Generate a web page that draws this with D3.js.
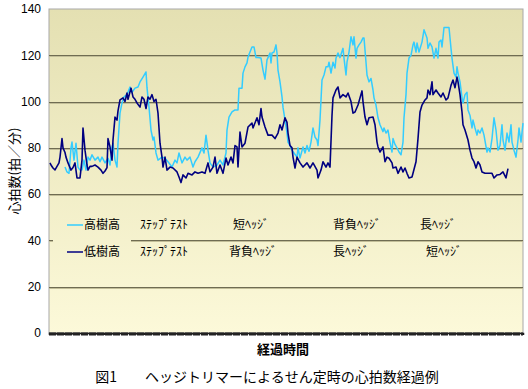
<!DOCTYPE html>
<html><head><meta charset="utf-8">
<script src="https://cdn.jsdelivr.net/npm/d3@7"></script>
<style>
html,body{margin:0;padding:0;background:#fff;}
svg{display:block;}
</style></head>
<body>
<svg id="chart" width="528" height="389"></svg>
<script>
// ---- data (elapsed time units, heart rate bpm) ----
const yTicks = [0, 20, 40, 60, 80, 100, 120, 140];
const seriesNames = ["高樹高", "低樹高"];
const highTree = [[16,71.7],[18,69.6],[20,69],[22,80],[23,82.5],[25,74.7],[27,82],[29,71.7],[31,70.4],[33,70.5],[35,74.7],[37,70.4],[39,76],[41,74.7],[43,77],[46,74.7],[49,76],[51,74],[53,76],[56,73.5],[59,75.5],[61,72.6],[63,80.4],[64,82],[66,74.7],[68,71.7],[69,82],[71,95],[73,99.4],[75,102],[78,103],[81,106.3],[83,104],[86,105.8],[89,106.3],[91,108.5],[94,110.6],[97,112.8],[98,106],[100,97.6],[102,87.7],[104,83.4],[105,84.7],[107,77.8],[109,74.7],[113,76],[116,75.5],[119,74],[123,71.7],[126,74.7],[128,73.5],[130,77.8],[133,73.5],[136,76],[138,74.7],[141,76],[144,71.7],[146,74],[149,76],[153,80],[155,77.8],[157,85.5],[159,79],[161,73.5],[164,71.7],[168,72.6],[171,74.7],[174,72.6],[177,77.8],[178,87.7],[180,93.3],[183,95.5],[186,96.4],[189,96.4],[190,105.8],[193,105.8],[194,112.3],[196,115],[198,116.7],[199,119.2],[201,121.4],[203,123.6],[205,123.6],[207,119],[209,119],[212,118.8],[214,113.6],[216,109.7],[218,118],[219,119],[221,121],[222,116.7],[223,121],[225,121.4],[227,124.5],[228,121],[229,113.6],[231,108.5],[233,102],[234,97.6],[236,92],[238,86.4],[239,82.5],[241,81],[243,79],[245,77.8],[248,76],[249,80],[251,75.6],[254,80.4],[256,77.8],[258,81],[260,78.5],[262,82.5],[264,88.6],[266,84.7],[268,83.4],[269,81],[271,92],[272,100.7],[273,109.3],[275,111.5],[277,115],[279,115],[280,117],[282,112.3],[284,117],[286,114.5],[287,118.8],[289,121],[291,119],[294,123],[295,118.8],[297,111.5],[298,117],[300,121.4],[302,128],[304,124.5],[305,128],[307,118.8],[308,123],[310,124.5],[312,125.7],[314,127.5],[315,127.5],[317,117],[318,111.5],[320,108.5],[322,110],[324,105],[325,101.6],[327,98.5],[329,93],[331,90],[334,87],[335,88.6],[337,86.4],[339,87.7],[341,82.5],[343,78.2],[344,84],[346,81.5],[348,80],[350,78.2],[352,77],[354,82.5],[355,93],[357,103],[358,112.3],[360,118.8],[362,120],[364,124.5],[365,125.7],[367,121.4],[368,125.3],[370,121.4],[373,125.7],[375,131],[378,127.5],[379,123],[381,125.3],[383,123.6],[385,118.8],[387,123],[389,118.8],[390,125.7],[392,126.6],[393,123.6],[395,132],[398,132],[400,132],[402,123],[403,118.8],[405,112.3],[407,110.6],[408,115],[409,112.3],[411,108.5],[413,101.6],[414,99.4],[416,103],[418,104],[419,96.4],[421,94],[423,88.6],[424,92],[426,88.6],[428,85.5],[429,87.7],[431,86.4],[433,88.6],[435,85.5],[438,78.2],[439,80],[441,78.2],[443,84],[445,93],[447,87.7],[449,79],[451,81],[453,90],[454,83.4],[456,79],[458,86.4],[460,82.5],[462,90],[463,82.5],[465,79],[467,76],[469,83.4],[470,88.6],[472,82.5],[474,90.7]];
const lowTree = [[1,73.5],[2,72.6],[4,71.3],[6,70.5],[8,72],[10,73.5],[11,76],[13,84],[14,80],[16,78],[17,76],[19,73.5],[22,70.4],[24,71.5],[26,73.5],[28,67],[31,67],[33,74.7],[34,88.6],[36,79],[38,72.6],[39,70.4],[41,72],[43,72],[46,72.6],[49,71.7],[52,70.4],[54,69],[56,70],[58,71.5],[59,84],[61,80.4],[63,74.7],[64,83.4],[66,93.3],[68,92],[69,96],[71,100.7],[74,101.6],[76,100],[78,103.7],[79,101],[82,105.8],[84,102],[86,101],[88,99.4],[91,97.6],[93,102],[95,101],[97,97],[99,102],[101,101],[103,103],[105,100],[107,101],[109,95],[111,82],[113,76],[114,71.7],[116,76],[118,70.4],[121,71.7],[124,71.3],[128,69.6],[130,67.4],[132,65],[134,68.3],[137,67],[139,69],[143,68.3],[146,69.6],[149,69],[153,69.6],[156,69],[159,73.5],[161,69.6],[164,71.7],[166,76],[168,69],[171,72.6],[174,69],[177,75.6],[179,72.6],[182,76],[184,73.5],[186,81],[188,80.4],[189,71.7],[191,86.8],[193,80.4],[196,82],[199,89],[203,90.7],[204,88.6],[208,93],[210,90],[212,97],[213,93.3],[216,89],[219,85.5],[223,85.5],[226,84],[229,86.4],[231,90],[233,87.7],[236,93],[238,91],[239,86.4],[241,81],[243,80],[244,76],[246,71.3],[248,76],[251,73.5],[254,71.7],[258,73.5],[261,71.3],[264,73.5],[268,70.4],[269,67],[272,70.4],[274,74],[277,71.7],[279,73.5],[281,71.7],[283,94],[284,101.6],[287,105],[289,106.3],[291,101.6],[294,103],[297,102],[299,103.7],[302,100],[304,95],[306,95.5],[309,98.5],[311,101.6],[313,104.6],[314,100],[316,93.3],[318,90],[320,93],[324,93.3],[326,90],[328,82.5],[329,80.4],[331,78.2],[334,80.4],[336,74],[338,76],[340,75.5],[343,73.5],[344,71.3],[347,71.7],[349,69],[352,71.7],[354,69.6],[356,71.3],[358,69],[360,67],[363,67.4],[364,69],[367,74],[369,84],[371,95.5],[373,98.5],[376,100.7],[378,101.6],[379,105],[381,103],[383,108.5],[384,103],[387,105],[389,103.7],[392,102],[394,103.7],[397,100.7],[399,101.6],[402,107],[404,109.3],[406,106],[408,110.6],[409,108.5],[411,103],[413,95.5],[414,90],[416,87.7],[419,83.4],[421,79],[423,75.6],[425,74],[427,71.3],[429,74],[431,72.6],[433,69.6],[436,69],[439,69],[443,69],[445,67],[448,68.3],[451,68.5],[454,69.6],[457,67],[459,71]];
const noteRowHigh = [["ｽﾃｯﾌﾟﾃｽﾄ", 91], ["短ﾍｯｼﾞ", 184], ["背負ﾍｯｼﾞ", 284], ["長ﾍｯｼﾞ", 371]];
const noteRowLow  = [["ｽﾃｯﾌﾟﾃｽﾄ", 91], ["背負ﾍｯｼﾞ", 180], ["長ﾍｯｼﾞ", 284], ["短ﾍｯｼﾞ", 377]];
const yTitle = "心拍数(拍／分)";
const xTitle = "経過時間";
const caption = "図1　　ヘッジトリマーによるせん定時の心拍数経過例";

// ---- layout ----
const svg = d3.select("#chart");
const L = 49, R = 523, T = 9, B = 333;
const x = d3.scaleLinear().domain([0, 474]).range([L, R]);
const y = d3.scaleLinear().domain([0, 140]).range([B, T]);
const colHigh = "#33ccff", colLow = "#000080";
const jp = "'Noto Sans CJK JP', sans-serif";
const num = "'Liberation Sans', Arial, sans-serif";

const defs = svg.append("defs");
const grad = defs.append("linearGradient").attr("id", "bg")
  .attr("gradientUnits", "userSpaceOnUse").attr("x1", 0).attr("y1", T).attr("x2", 0).attr("y2", B);
grad.append("stop").attr("offset", "0%").attr("stop-color", "#e4e0b2");
grad.append("stop").attr("offset", "100%").attr("stop-color", "#fcf9d9");

svg.append("rect").attr("x", L).attr("y", T).attr("width", R - L).attr("height", B - T)
  .attr("fill", "url(#bg)").attr("stroke", "#a8a8a8").attr("stroke-width", 1);

// gridlines
const grid = svg.append("g");
yTicks.filter(v => v > 0 && v < 140).forEach(v => {
  grid.append("line").attr("x1", L).attr("x2", R).attr("y1", Math.round(y(v)) + 0.5).attr("y2", Math.round(y(v)) + 0.5)
    .attr("stroke", "#6f6c52").attr("stroke-width", 1);
  grid.append("line").attr("x1", L).attr("x2", R).attr("y1", Math.round(y(v)) + 1.5).attr("y2", Math.round(y(v)) + 1.5)
    .attr("stroke", "#c2be98").attr("stroke-width", 1);
});

// y axis labels
const yAxis = svg.append("g").attr("transform", `translate(${L},0)`)
  .call(d3.axisLeft(y).tickValues(yTicks).tickSize(0).tickPadding(8));
yAxis.select(".domain").remove();
yAxis.selectAll("text").attr("font-family", num).attr("font-size", 12).attr("fill", "#000");

// lines
const line = d3.line().x(d => x(d[0])).y(d => y(d[1]));
svg.append("path").datum(highTree).attr("d", line).attr("fill", "none")
  .attr("stroke", colHigh).attr("stroke-width", 1.5).attr("stroke-linejoin", "round");
svg.append("path").datum(lowTree).attr("d", line).attr("fill", "none")
  .attr("stroke", colLow).attr("stroke-width", 1.6).attr("stroke-linejoin", "round");

// x axis (dense tick band)
const xAxis = svg.append("g").attr("transform", `translate(0,${B})`)
  .call(d3.axisBottom(x).tickValues(d3.range(0, 475, 2.5)).tickSize(2).tickFormat(""));
xAxis.select(".domain").attr("stroke", "#1a1a1a").attr("stroke-width", 1.5);
xAxis.selectAll(".tick line").attr("stroke", "#1a1a1a");
svg.append("line").attr("x1", L).attr("x2", R).attr("y1", B + 1).attr("y2", B + 1)
  .attr("stroke", "#222").attr("stroke-width", 3).attr("stroke-dasharray", "7,1");

// legend box & annotations
svg.append("rect").attr("x", L + 4).attr("y", y(52)).attr("width", 78).attr("height", y(25) - y(52))
  .attr("fill", "url(#bg)");
const leg = svg.append("g");
[[colHigh, 225], [colLow, 252]].forEach(([c, yy], i) => {
  leg.append("line").attr("x1", 67).attr("x2", 83).attr("y1", yy).attr("y2", yy)
    .attr("stroke", c).attr("stroke-width", 1.5);
  leg.append("text").attr("x", 84).attr("y", yy).attr("dy", "0.35em").text(seriesNames[i])
    .attr("font-family", jp).attr("font-size", 12).attr("fill", "#000");
});
noteRowHigh.forEach(([t, tx]) => {
  leg.append("text").attr("x", x(tx)).attr("y", 225).attr("dy", "0.35em").text(t)
    .attr("font-family", jp).attr("font-size", 12).attr("fill", "#000");
});
noteRowLow.forEach(([t, tx]) => {
  leg.append("text").attr("x", x(tx)).attr("y", 252).attr("dy", "0.35em").text(t)
    .attr("font-family", jp).attr("font-size", 12).attr("fill", "#000");
});

// titles
svg.append("text").attr("transform", `translate(14,${(T + B) / 2}) rotate(-90)`)
  .attr("text-anchor", "middle").attr("dy", "0.35em").text(yTitle)
  .attr("font-family", jp).attr("font-size", 13).attr("fill", "#000");
svg.append("text").attr("x", 283).attr("y", 349).attr("text-anchor", "middle").attr("dy", "0.35em")
  .text(xTitle).attr("font-family", jp).attr("font-size", 13).attr("font-weight", "bold").attr("fill", "#000");
svg.append("text").attr("x", 267).attr("y", 377).attr("text-anchor", "middle").attr("dy", "0.35em")
  .text(caption).attr("font-family", jp).attr("font-size", 14).attr("fill", "#000");
</script>
</body></html>
